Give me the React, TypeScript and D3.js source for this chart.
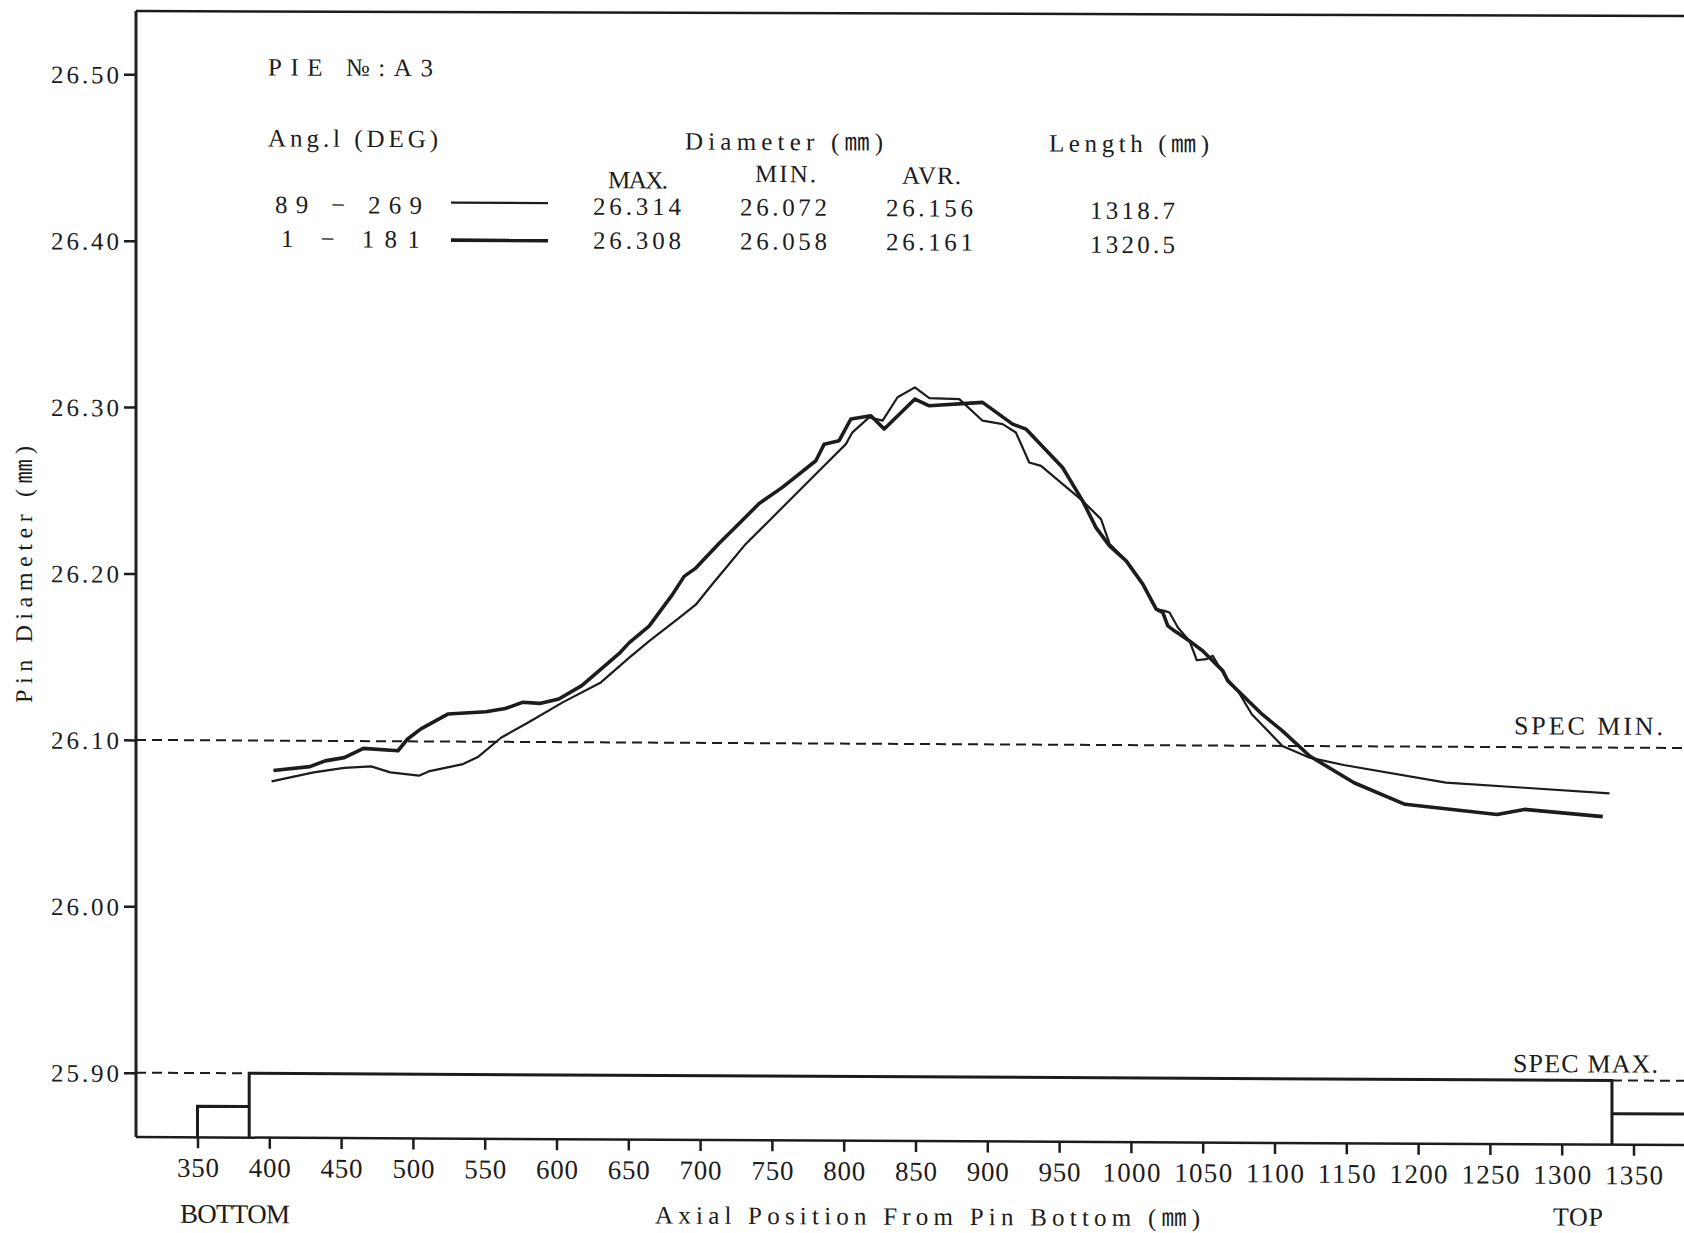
import React, { useEffect, useRef } from 'react';
import * as d3 from 'd3';

// axis ticks
const xTicks = [350, 400, 450, 500, 550, 600, 650, 700, 750, 800, 850, 900, 950, 1000, 1050, 1100, 1150, 1200, 1250, 1300, 1350];
const yTicks = [26.5, 26.4, 26.3, 26.2, 26.1, 26.0, 25.9];
const yTickLabels = ['26.50', '26.40', '26.30', '26.20', '26.10', '26.00', '25.90'];

// 89 - 269 deg (thin line): axial position (mm) / diameter (mm)
const thinPos = [401.6, 430.9, 452.2, 470.9, 484.3, 504.2, 510.9, 534.9, 545.6, 561.6, 580.3, 604.3, 630.9, 650.7, 664.5, 685.4, 697.0, 708.6, 720.2, 731.8, 748.1, 757.3, 780.6, 801.5, 806.1, 817.7, 827.1, 837.5, 849.6, 859.6, 880.5, 896.7, 910.7, 919.9, 929.2, 937.4, 966.4, 979.2, 985.1, 996.7, 1008.3, 1017.6, 1023.4, 1026.9, 1032.7, 1040.8, 1045.9, 1052.4, 1057.0, 1060.5, 1066.4, 1074.5, 1084.2, 1105.5, 1124.5, 1148.2, 1219.4, 1274.0, 1333.3];
const thinDia = [26.0755, 26.081, 26.0838, 26.0848, 26.0813, 26.0794, 26.082, 26.0865, 26.091, 26.1026, 26.1117, 26.1239, 26.136, 26.151, 26.161, 26.175, 26.183, 26.1955, 26.2076, 26.2197, 26.2337, 26.2417, 26.2619, 26.28, 26.2871, 26.2961, 26.2942, 26.3083, 26.3143, 26.3079, 26.3074, 26.2945, 26.2925, 26.2875, 26.2695, 26.2675, 26.2466, 26.2357, 26.221, 26.2107, 26.1968, 26.1818, 26.1808, 26.1798, 26.1708, 26.1628, 26.1512, 26.1519, 26.1539, 26.1489, 26.1408, 26.1329, 26.1189, 26.1, 26.093, 26.0887, 26.0784, 26.0756, 26.0725];

// 1 - 181 deg (thick line)
const thickPos = [402.9, 428.3, 438.9, 452.2, 465.6, 489.6, 496.3, 505.6, 524.3, 550.9, 564.3, 576.3, 588.3, 601.6, 617.6, 633.6, 644.3, 650.7, 664.5, 680.7, 688.9, 697.0, 713.3, 724.9, 741.1, 757.3, 780.6, 786.4, 796.8, 805.0, 818.9, 828.2, 849.6, 859.6, 896.7, 917.6, 926.9, 952.4, 966.4, 975.7, 985.1, 996.7, 1008.3, 1017.6, 1022.2, 1025.7, 1030.3, 1040.8, 1050.1, 1054.8, 1064.0, 1067.5, 1091.3, 1105.5, 1124.5, 1155.4, 1190.9, 1255.0, 1274.0, 1328.6];
const thickDia = [26.082, 26.0845, 26.088, 26.09, 26.0956, 26.0943, 26.1014, 26.1075, 26.1165, 26.118, 26.12, 26.1238, 26.1232, 26.1259, 26.134, 26.146, 26.154, 26.16, 26.17, 26.189, 26.2, 26.205, 26.22, 26.23, 26.244, 26.2538, 26.2699, 26.2799, 26.282, 26.2951, 26.2971, 26.2892, 26.3073, 26.3033, 26.3055, 26.2925, 26.2896, 26.2666, 26.2466, 26.2306, 26.2197, 26.2107, 26.1968, 26.1818, 26.1798, 26.1718, 26.1688, 26.1628, 26.1568, 26.1528, 26.1449, 26.1389, 26.119, 26.109, 26.094, 26.0781, 26.0653, 26.0595, 26.0626, 26.0585];

// summary table
const angles = ['89  −  269', '1  −  181'];
const maxDia = ['26.314', '26.308'];
const minDia = ['26.072', '26.058'];
const avrDia = ['26.156', '26.161'];
const lengths = ['1318.7', '1320.5'];

// spec limits and pin outline (mm)
const specMin = 26.1;
const specMax = 25.9;
const pinEdges = [350, 386, 1335]; // bottom step start, body start, body end
const stepLevel = 25.88;

const W = 1684;
const H = 1233;

const PinDiameterChart = () => {
  const svgRef = useRef<SVGSVGElement>(null);

  useEffect(() => {
    const svg = d3.select(svgRef.current);
    svg.selectAll('*').remove();

    const ink = '#1c1c1c';
    const font = "'Liberation Serif', 'DejaVu Serif', 'Noto Sans CJK JP', serif";

    // scales (pixel positions)
    const x = d3.scaleLinear().domain([350, 1350]).range([197.5, 1633.5]);
    const y = d3.scaleLinear().domain([25.9, 26.5]).range([1072.7, 74.3]);
    const xMin = x.invert(136);
    const xMax = x.invert(W);
    const yMin = y.invert(1137);
    const yMax = y.invert(11);

    svg.append('rect').attr('width', W).attr('height', H).attr('fill', '#fff');

    // top frame line
    svg.append('line')
      .attr('x1', x(xMin)).attr('x2', W)
      .attr('y1', y(yMax)).attr('y2', y(yMax) + 5)
      .attr('stroke', ink).attr('stroke-width', 2.5);

    // the scan is slightly tilted
    const g = svg.append('g')
      .attr('transform', `translate(${x(xMin)},0) skewY(0.3) translate(${-x(xMin)},0)`);

    const line = d3.line<[number, number]>().x(d => x(d[0])).y(d => y(d[1]));

    // spec lines
    const dashed = (pts: [number, number][]) =>
      g.append('path').attr('d', line(pts)).attr('fill', 'none')
        .attr('stroke', ink).attr('stroke-width', 2).attr('stroke-dasharray', '10 6');
    dashed([[xMin, specMin], [xMax, specMin]]);
    dashed([[xMin, specMax], [pinEdges[1], specMax]]);
    dashed([[pinEdges[2], specMax], [xMax, specMax]]);

    // pin outline
    const outline: [number, number][][] = [
      [[pinEdges[0], yMin], [pinEdges[0], stepLevel], [pinEdges[1], stepLevel]],
      [[pinEdges[1], yMin], [pinEdges[1], specMax], [pinEdges[2], specMax], [pinEdges[2], yMin]],
      [[pinEdges[2], stepLevel], [xMax, stepLevel]],
    ];
    outline.forEach(pts => {
      g.append('path').attr('d', line(pts)).attr('fill', 'none')
        .attr('stroke', ink).attr('stroke-width', 3);
    });

    // axes lines
    g.append('line').attr('x1', x(xMin)).attr('x2', x(xMin))
      .attr('y1', y(yMax)).attr('y2', y(yMin))
      .attr('stroke', ink).attr('stroke-width', 3);
    g.append('line').attr('x1', x(xMin)).attr('x2', W)
      .attr('y1', y(yMin)).attr('y2', y(yMin))
      .attr('stroke', ink).attr('stroke-width', 2.5);

    // x axis
    const xAxis = g.append('g')
      .attr('transform', `translate(0,${y(yMin)})`)
      .call(d3.axisBottom(x).tickValues(xTicks).tickSize(11).tickSizeOuter(0).tickFormat(d3.format('d')));
    xAxis.select('.domain').remove();
    xAxis.selectAll('line').attr('stroke', ink).attr('stroke-width', 2.5);
    xAxis.selectAll('text')
      .attr('y', 30).attr('dy', '0.35em')
      .attr('fill', ink)
      .attr('textLength', (d: any) => (d >= 1000 ? 58 : 42))
      .attr('lengthAdjust', 'spacing')
      .style('font-family', font).style('font-size', '27px');

    // y axis
    const yAxis = g.append('g')
      .attr('transform', `translate(${x(xMin)},0)`)
      .call(d3.axisLeft(y).tickValues(yTicks).tickSize(12).tickSizeOuter(0)
        .tickFormat((d, i) => yTickLabels[i]));
    yAxis.select('.domain').remove();
    yAxis.selectAll('line').attr('stroke', ink).attr('stroke-width', 2.5);
    yAxis.selectAll('text')
      .attr('x', -17).attr('dy', '0.35em')
      .attr('fill', ink)
      .attr('textLength', 68)
      .attr('lengthAdjust', 'spacing')
      .style('font-family', font).style('font-size', '25px');

    // measured profiles
    const thin = thinPos.map((p, i) => [p, thinDia[i]] as [number, number]);
    const thick = thickPos.map((p, i) => [p, thickDia[i]] as [number, number]);
    g.append('path').attr('d', line(thin)).attr('fill', 'none')
      .attr('stroke', ink).attr('stroke-width', 2.2).attr('stroke-linejoin', 'round');
    g.append('path').attr('d', line(thick)).attr('fill', 'none')
      .attr('stroke', ink).attr('stroke-width', 3.6).attr('stroke-linejoin', 'round');

    // text helper
    const label = (txt: string, tx: number, ty: number, len: number, size = 25, rotate = 0) => {
      const t = g.append('text')
        .attr('x', tx).attr('y', ty).attr('dy', '0.35em')
        .attr('fill', ink)
        .attr('textLength', len).attr('lengthAdjust', 'spacing')
        .style('font-family', font).style('font-size', `${size}px`)
        .text(txt);
      if (rotate) {
        t.attr('text-anchor', 'middle').attr('transform', `rotate(${rotate},${tx},${ty})`);
      }
      return t;
    };

    // header table
    label('PIE  №:A3', 268, 66, 165);
    label('Ang.l  (DEG)', 268, 137, 170);
    label('Diameter (㎜)', 685, 138, 198);
    label('Length (㎜)', 1049, 138, 160);
    label('MAX.', 608, 177, 60);
    label('MIN.', 755, 170, 61);
    label('AVR.', 902, 171, 59);

    const rowY = [203.5, 237.5];
    angles.forEach((a, i) => {
      label(a, i === 0 ? 275 : 281, rowY[i], i === 0 ? 147 : 139);
      label(maxDia[i], 593, rowY[i], 88);
      label(minDia[i], 740, rowY[i], 87);
      label(avrDia[i], 886, rowY[i], 87);
      label(lengths[i], 1090, rowY[i] + 1.5, 85);
    });
    g.append('line').attr('x1', 451).attr('x2', 548).attr('y1', 201).attr('y2', 201)
      .attr('stroke', ink).attr('stroke-width', 2.2);
    g.append('line').attr('x1', 451).attr('x2', 548).attr('y1', 238.5).attr('y2', 238.5)
      .attr('stroke', ink).attr('stroke-width', 3.6);

    // spec labels
    label('SPEC  MIN.', 1514, y(specMin) - 22, 149, 26);
    label('SPEC  MAX.', 1513, y(specMax) - 17, 145, 26);

    // axis titles
    label('Pin Diameter (㎜)', 24, 575, 257, 24, -90);
    label('BOTTOM', 180, 1213, 110, 27);
    label('Axial Position From Pin Bottom (㎜)', 655, 1212, 545, 25);
    label('TOP', 1553, 1209, 50, 26);
  }, []);

  return (
    <div style={{ position: 'absolute', left: 0, top: 0 }}>
      <svg ref={svgRef} width={W} height={H} style={{ display: 'block' }}></svg>
    </div>
  );
};

export default function App() {
  return <PinDiameterChart />;
}
